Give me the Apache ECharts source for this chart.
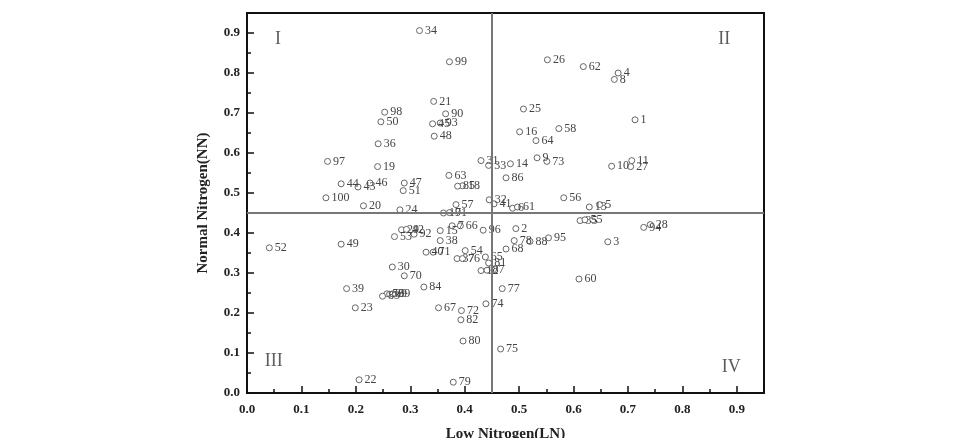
<!DOCTYPE html>
<html>
<head>
<meta charset="utf-8">
<title>LN vs NN</title>
<script src="https://cdn.jsdelivr.net/npm/echarts@6/dist/echarts.min.js"></script>
<style>
  html, body { margin: 0; padding: 0; background: #fff; }
  #chart { width: 969px; height: 438px; }
</style>
</head>
<body>
<div id="chart"></div>
<script>
// point labels (accession numbers)
var ids = [1, 2, 3, 4, 5, 6, 7, 8, 9, 10,
  11, 12, 13, 14, 15, 16, 17, 18, 19, 20,
  21, 22, 23, 24, 25, 26, 27, 28, 29, 30,
  31, 32, 33, 34, 35, 36, 37, 38, 39, 40,
  41, 42, 43, 44, 45, 46, 47, 48, 49, 50,
  51, 52, 53, 54, 55, 56, 57, 58, 59, 60,
  61, 62, 63, 64, 65, 66, 67, 68, 69, 70,
  71, 72, 73, 74, 75, 76, 77, 78, 79, 80,
  81, 82, 83, 84, 85, 86, 87, 88, 89, 90,
  91, 92, 93, 94, 95, 96, 97, 98, 99, 100];
// Low Nitrogen (x)
var lnValues = [0.713, 0.494, 0.663, 0.682, 0.648, 0.488, 0.377, 0.675, 0.533, 0.670,
  0.707, 0.430, 0.629, 0.484, 0.355, 0.501, 0.361, 0.396, 0.240, 0.214,
  0.343, 0.206, 0.199, 0.281, 0.508, 0.552, 0.705, 0.741, 0.284, 0.267,
  0.430, 0.445, 0.444, 0.317, 0.612, 0.241, 0.386, 0.355, 0.183, 0.329,
  0.454, 0.293, 0.204, 0.173, 0.341, 0.226, 0.289, 0.344, 0.173, 0.246,
  0.287, 0.041, 0.271, 0.401, 0.621, 0.582, 0.384, 0.573, 0.257, 0.610,
  0.497, 0.618, 0.371, 0.531, 0.438, 0.392, 0.352, 0.476, 0.262, 0.289,
  0.342, 0.394, 0.551, 0.439, 0.466, 0.396, 0.469, 0.491, 0.379, 0.397,
  0.444, 0.393, 0.249, 0.325, 0.387, 0.476, 0.441, 0.520, 0.268, 0.365,
  0.372, 0.307, 0.355, 0.729, 0.554, 0.434, 0.148, 0.253, 0.372, 0.145];
// Normal Nitrogen (y)
var nnValues = [0.683, 0.411, 0.378, 0.800, 0.471, 0.462, 0.418, 0.784, 0.588, 0.567,
  0.581, 0.306, 0.465, 0.573, 0.406, 0.653, 0.450, 0.518, 0.566, 0.468,
  0.729, 0.033, 0.213, 0.458, 0.710, 0.833, 0.566, 0.421, 0.408, 0.315,
  0.581, 0.483, 0.569, 0.906, 0.431, 0.623, 0.336, 0.381, 0.261, 0.352,
  0.473, 0.409, 0.515, 0.523, 0.673, 0.525, 0.525, 0.642, 0.372, 0.678,
  0.506, 0.363, 0.391, 0.356, 0.433, 0.488, 0.471, 0.661, 0.248, 0.285,
  0.465, 0.816, 0.544, 0.631, 0.340, 0.418, 0.213, 0.360, 0.247, 0.293,
  0.352, 0.206, 0.579, 0.223, 0.110, 0.336, 0.261, 0.381, 0.027, 0.130,
  0.325, 0.183, 0.242, 0.265, 0.517, 0.538, 0.307, 0.379, 0.248, 0.698,
  0.451, 0.397, 0.675, 0.414, 0.388, 0.407, 0.579, 0.702, 0.828, 0.488];
var quadrantLabels = ['I', 'II', 'III', 'IV'];
var cutValue = 0.45;

var chart = echarts.init(document.getElementById('chart'));

var points = ids.map(function (id, i) {
  return { name: String(id), value: [lnValues[i], nnValues[i]] };
});

var serif = '"Liberation Serif", "DejaVu Serif", serif';

// only label the 0.1 steps, not the 0.95 edge
function tickFmt(v) {
  var r = Math.round(v * 10) / 10;
  return Math.abs(r - v) < 1e-6 ? r.toFixed(1) : '';
}

function axisCommon(name, gap, rotate, labelMargin) {
  return {
    type: 'value',
    min: 0,
    max: 0.95,
    interval: 0.1,
    name: name,
    nameLocation: 'middle',
    nameGap: gap,
    nameRotate: rotate,
    nameTextStyle: { fontFamily: serif, fontWeight: 'bold', fontSize: 15, color: '#222' },
    axisLine: { show: true, onZero: false, lineStyle: { color: '#111', width: 2 } },
    axisTick: { show: true, inside: true, length: 7, lineStyle: { color: '#111', width: 1.5 } },
    minorTick: { show: true, splitNumber: 2, length: 4, lineStyle: { color: '#111', width: 1.5 } },
    axisLabel: { fontFamily: serif, fontWeight: 'bold', fontSize: 13, color: '#222', formatter: tickFmt, margin: labelMargin },
    splitLine: { show: false }
  };
}

var option = {
  backgroundColor: '#fff',
  animation: false,
  grid: {
    left: 247, right: 205, top: 13, bottom: 45,
    containLabel: false,
    outerBoundsMode: 'none',
    show: true, borderColor: '#111', borderWidth: 2, backgroundColor: 'transparent'
  },
  xAxis: axisCommon('Low Nitrogen(LN)', 34, 0, 10),
  yAxis: axisCommon('Normal Nitrogen(NN)', 36, 90, 7),
  series: [
    {
      type: 'scatter',
      data: points,
      symbol: 'circle',
      symbolSize: 6,
      itemStyle: { color: '#fff', borderColor: '#666', borderWidth: 1, opacity: 1 },
      label: {
        show: true,
        position: 'right',
        distance: 2,
        formatter: '{b}',
        fontFamily: serif,
        fontSize: 12,
        color: '#444'
      },
      labelLayout: { hideOverlap: false },
      markLine: {
        silent: true,
        symbol: ['none', 'none'],
        label: { show: false },
        lineStyle: { color: '#777', width: 2, type: 'solid' },
        data: [{ xAxis: cutValue }, { yAxis: cutValue }]
      }
    },
    {
      // quadrant numerals placed in data space
      type: 'scatter',
      symbolSize: 0,
      silent: true,
      data: [
        { value: [0.057, 0.885], name: quadrantLabels[0] },
        { value: [0.877, 0.885], name: quadrantLabels[1] },
        { value: [0.049, 0.079], name: quadrantLabels[2] },
        { value: [0.89, 0.065], name: quadrantLabels[3] }
      ],
      label: {
        show: true,
        position: 'inside',
        formatter: '{b}',
        fontFamily: serif,
        fontSize: 18,
        color: '#333'
      }
    }
  ]
};

chart.setOption(option);
</script>
</body>
</html>
